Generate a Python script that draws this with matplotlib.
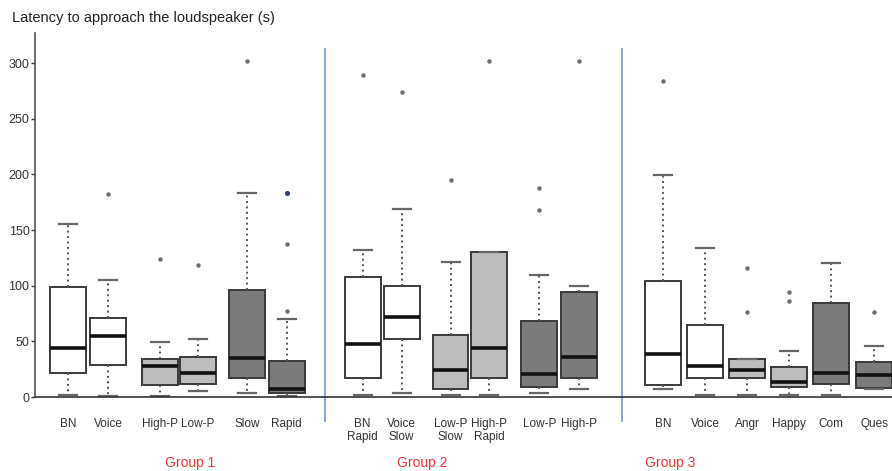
import matplotlib
matplotlib.use("Agg")
from matplotlib import pyplot as plt

plt.rcParams['font.family'] = ['Liberation Sans', 'DejaVu Sans']

# category labels (left to right)
labels = ['BN', 'Voice', 'High-P', 'Low-P', 'Slow', 'Rapid',
          'BN\nRapid', 'Voice\nSlow', 'Low-P\nSlow', 'High-P\nRapid', 'Low-P', 'High-P',
          'BN', 'Voice', 'Angr', 'Happy', 'Com', 'Ques']
groups = ['Group 1', 'Group 2', 'Group 3']

# box statistics (seconds)
whislo = [1.5, 1, 1, 5, 4, 1,
          1.5, 3.5, 1.5, 1.5, 3.5, 7,
          7, 1.5, 1.5, 1.5, 1.5, 7]
q1 = [21.5, 29, 10.5, 12, 17, 3.5,
      17, 52, 7, 17, 9, 17,
      10.5, 17, 17, 9, 12, 8]
med = [44, 55, 28, 21.5, 35, 7,
       48, 72, 24, 44, 21, 36,
       38.5, 28, 24, 13.5, 21.5, 20]
q3 = [99, 71, 34, 36, 96, 32,
      108, 100, 56, 130, 68, 94,
      104, 65, 34, 27, 84, 31.5]
whishi = [155, 105, 49, 52, 183, 70,
          132, 169, 121, 130, 110, 100,
          199, 134, 34, 41, 120, 46]
fliers = [[], [182], [124], [119], [302], [183, 137, 77],
          [289], [274], [195], [302], [188, 168], [302],
          [284], [], [116, 76], [94, 86], [], [76]]
shade = ['w', 'w', 'l', 'l', 'd', 'd',
         'w', 'w', 'l', 'l', 'd', 'd',
         'w', 'w', 'l', 'l', 'd', 'd']

# layout
positions = [68, 108, 160, 198, 247, 287,
             363, 402, 451, 490, 540, 580,
             664, 706, 748, 790, 832, 875]
separators = [325, 623]
group_x = [190, 422, 670]
fills = {'w': 'white', 'l': '#bdbdbd', 'd': '#7b7b7b'}

fig = plt.figure(figsize=(8.92, 4.71), dpi=100)
ax = fig.add_axes([35 / 892, 1 - 397 / 471, 1 - 35 / 892, (397 - 33) / 471])

stats = []
for i in range(len(labels)):
    stats.append(dict(whislo=whislo[i], q1=q1[i], med=med[i], q3=q3[i],
                      whishi=whishi[i], fliers=[]))

bp = ax.bxp(stats, positions=positions, widths=36, patch_artist=True,
            showfliers=False, manage_ticks=False,
            boxprops=dict(edgecolor='#3a3a3a', linewidth=1.4),
            medianprops=dict(color='#111111', linewidth=2.6),
            whiskerprops=dict(color='#555555', linewidth=1.4, linestyle=(0, (1, 1.8))),
            capprops=dict(color='#666666', linewidth=1.6),
            capwidths=18)
for patch, s in zip(bp['boxes'], shade):
    patch.set_facecolor(fills[s])

for p, fl in zip(positions, fliers):
    if fl:
        ax.plot([p] * len(fl), fl, 'o', ms=3.2, color='#555555', mec='none', alpha=0.85)
# the blue outlier in Group 1 Rapid
ax.plot([positions[5]], [fliers[5][0]], 'o', ms=3.6, color='#2c3f7e', mec='none')

for sx in separators:
    ax.plot([sx, sx], [-22, 313], color='#7f9fd0', lw=1.3, clip_on=False)

ax.set_xlim(35, 893)
ax.set_ylim(0, 327)
ax.set_yticks([0, 50, 100, 150, 200, 250, 300])
ax.tick_params(axis='y', labelsize=9, colors='#333333', length=3, width=1, pad=1)
ax.set_xticks(positions)
ax.set_xticklabels(labels, fontsize=8.5, color='#333333', linespacing=1.1)
ax.tick_params(axis='x', length=0, pad=15)

for side in ['top', 'right']:
    ax.spines[side].set_visible(False)
ax.spines['left'].set_color('#555555')
ax.spines['left'].set_linewidth(1.2)
ax.spines['bottom'].set_color('#333333')
ax.spines['bottom'].set_linewidth(1.2)

for gx, g in zip(group_x, groups):
    fig.text(gx / 892, 1 - 463 / 471, g, color='#e8383d', fontsize=10,
             ha='center', va='center')

fig.text(12 / 892, 1 - 18 / 471, 'Latency to approach the loudspeaker (s)',
         fontsize=10.5, color='#222222', ha='left', va='center')

fig.savefig('out.png', dpi=100)
